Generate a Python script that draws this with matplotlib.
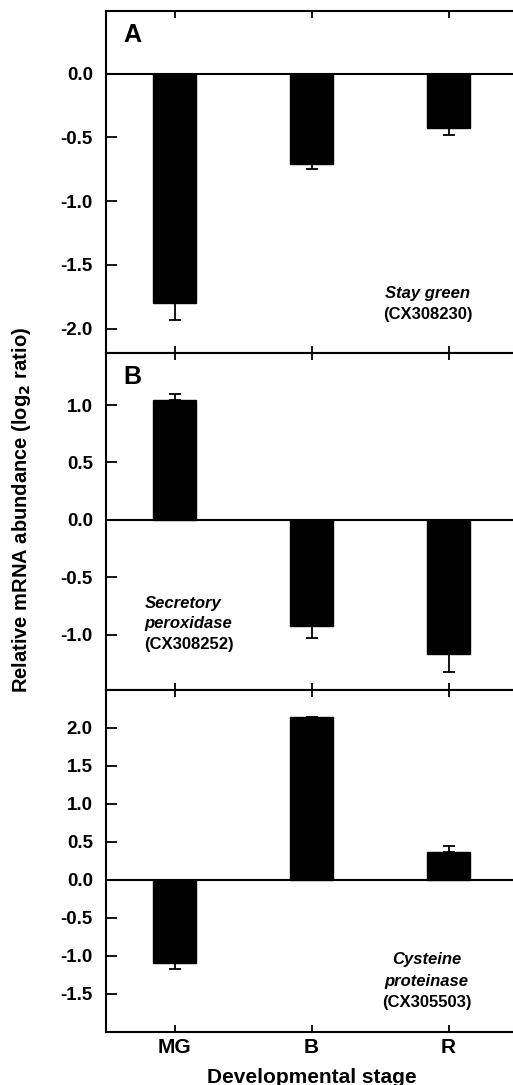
import matplotlib
matplotlib.use("Agg")
import matplotlib.pyplot as plt
import numpy as np

plt.rcParams['font.family'] = ['Liberation Sans', 'DejaVu Sans']
plt.rcParams['font.weight'] = 'bold'

stages = ["MG", "B", "R"]

stay_green = [-1.80, -0.71, -0.43]
stay_green_err = [0.13, 0.035, 0.05]

peroxidase = [1.04, -0.92, -1.17]
peroxidase_err = [0.055, 0.11, 0.15]

cysteine = [-1.10, 2.14, 0.37]
cysteine_err = [0.08, 0.0, 0.07]

panels = [
    dict(vals=stay_green, err=stay_green_err, ylim=(-2.19, 0.49),
         yticks=[0.0, -0.5, -1.0, -1.5, -2.0], letter="A"),
    dict(vals=peroxidase, err=peroxidase_err, ylim=(-1.48, 1.45),
         yticks=[1.0, 0.5, 0.0, -0.5, -1.0], letter="B"),
    dict(vals=cysteine, err=cysteine_err, ylim=(-2.0, 2.5),
         yticks=[2.0, 1.5, 1.0, 0.5, 0.0, -0.5, -1.0, -1.5], letter=None),
]

W, H = 513, 1085
fig = plt.figure(figsize=(W / 100, H / 100), dpi=100)

left = 106 / W
width = 411 / W
bounds_px = [(11, 353), (353.3, 690), (690, 1031.7)]

x = np.arange(len(stages))
axes = []
for (top, bot), p in zip(bounds_px, panels):
    ax = fig.add_axes([left, 1 - bot / H, width, (bot - top) / H])
    axes.append(ax)
    vals = np.array(p["vals"])
    err = np.array(p["err"])
    lower = np.where(vals < 0, err, 0)
    upper = np.where(vals >= 0, err, 0)
    ax.bar(x, vals, width=0.31, color='black', edgecolor='black', zorder=2)
    ax.errorbar(x, vals, yerr=[lower, upper], fmt='none', ecolor='black',
                elinewidth=1.3, capsize=4.5, capthick=1.3, zorder=3)
    ax.axhline(0, color='black', lw=1.5, zorder=4)
    ax.set_xlim(-0.5, 2.5)
    ax.set_ylim(*p["ylim"])
    ax.set_yticks(p["yticks"])
    ax.set_yticklabels([f"{v:.1f}" for v in p["yticks"]], fontsize=13.5, fontweight='bold')
    ax.set_xticks(x)
    ax.tick_params(axis='y', direction='in', length=8, width=1.3, pad=9.5)
    ax.tick_params(axis='x', direction='in', length=5, width=1.3, top=True, bottom=True)
    for s in ax.spines.values():
        s.set_linewidth(1.5)
    if p["letter"]:
        ax.text(0.063, 0.93, p["letter"], transform=ax.transAxes, fontsize=18,
                fontweight='bold', ha='center', va='center')

for ax in axes[:2]:
    ax.set_xticklabels([])
axes[2].set_xticklabels(stages, fontsize=15, fontweight='bold')
axes[2].tick_params(axis='x', pad=4.5)

# annotations
fs = 12
ax = axes[0]
ax.text(1.85, -1.72, "Stay green", style='italic', fontweight='bold', fontsize=fs, ha='center', va='center')
ax.text(1.85, -1.89, "(CX308230)", fontweight='bold', fontsize=fs, ha='center', va='center')

ax = axes[1]
ax.text(-0.22, -0.724, "Secretory", style='italic', fontweight='bold', fontsize=fs, ha='left', va='center')
ax.text(-0.22, -0.904, "peroxidase", style='italic', fontweight='bold', fontsize=fs, ha='left', va='center')
ax.text(-0.22, -1.087, "(CX308252)", fontweight='bold', fontsize=fs, ha='left', va='center')

ax = axes[2]
ax.text(1.84, -1.05, "Cysteine", style='italic', fontweight='bold', fontsize=fs, ha='center', va='center')
ax.text(1.84, -1.335, "proteinase", style='italic', fontweight='bold', fontsize=fs, ha='center', va='center')
ax.text(1.84, -1.61, "(CX305503)", fontweight='bold', fontsize=fs, ha='center', va='center')

fig.text(22 / W, 1 - 510 / H, r"Relative mRNA abundance (log$_\mathbf{2}$ ratio)", rotation=90,
         fontsize=14.5, fontweight='bold', ha='center', va='center')
fig.text(312 / W, 1 - 1083 / H, "Developmental stage", fontsize=15, fontweight='bold',
         ha='center', va='baseline')

fig.savefig("out.png", dpi=100)
